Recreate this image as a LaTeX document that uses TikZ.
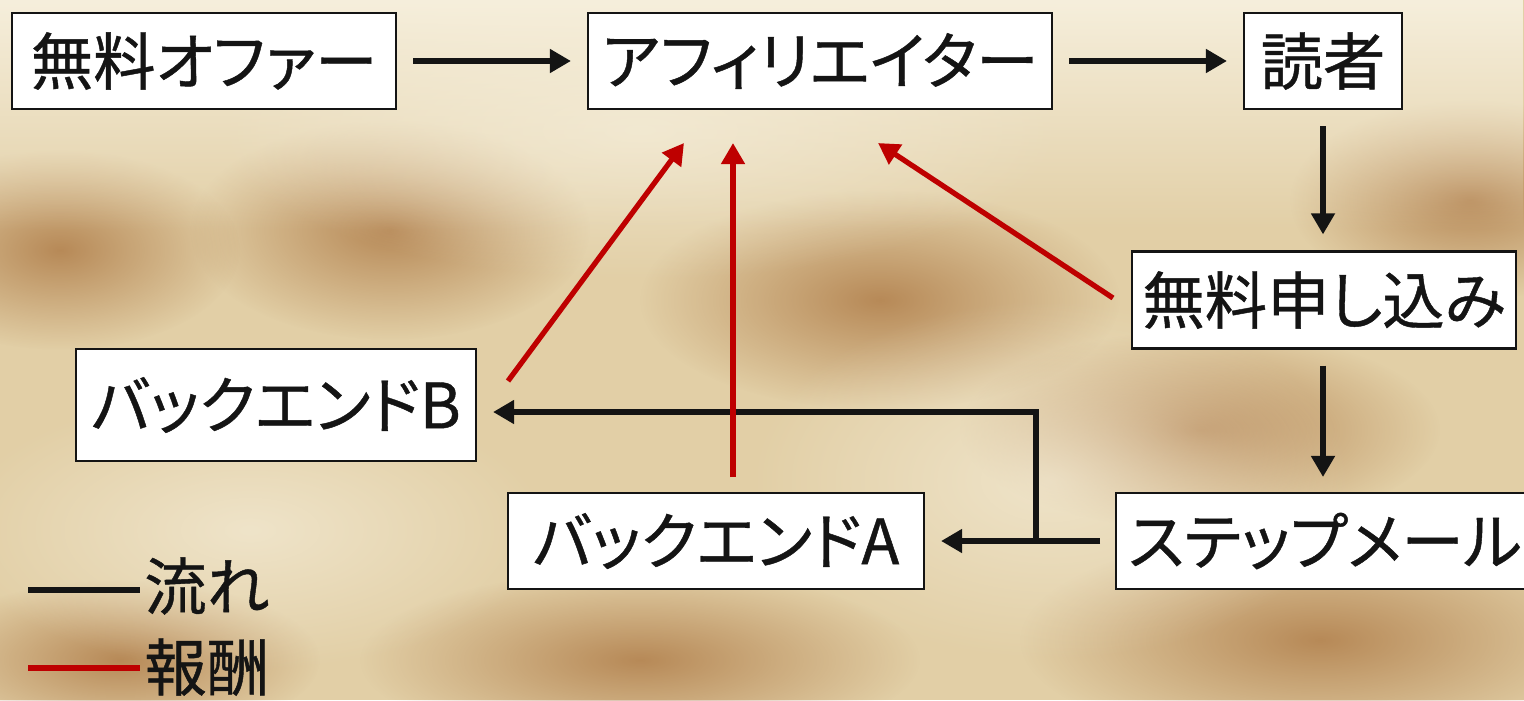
\documentclass[tikz,border=0pt]{standalone}
\usepackage{fontspec}
\setmainfont{Noto Sans CJK JP}[RawFeature=+palt, FakeBold=0.7]
\usetikzlibrary{arrows.meta,fadings}
\definecolor{parch}{RGB}{226,207,166}
\definecolor{parchlight}{RGB}{246,239,220}
\definecolor{stain}{RGB}{160,100,45}
\definecolor{flowred}{RGB}{190,0,0}
\definecolor{ink}{RGB}{20,20,20}
\tikzfading[name=softblob, inner color=transparent!35, outer color=transparent!100]
\tikzset{
  box/.style={draw=ink, line width=1.2pt, fill=white, inner sep=0pt, font=\fontsize{35.5}{42}\selectfont, text=ink},
  boxtext/.style={inner sep=0pt, font=\fontsize{35.5}{42}\selectfont, text=ink},
  frame/.style={draw=ink, line width=1.2pt, fill=white},
  flow/.style={draw=ink, line width=3.4pt, -{Triangle[length=12pt,width=13pt]}},
  reward/.style={draw=flowred, line width=3pt, -{Triangle[length=12pt,width=13pt]}},
  lbl/.style={font=\fontsize{35.5}{42}\selectfont, text=ink, inner sep=0pt, anchor=west},
  stainblob/.style={fill=stain, path fading=softblob, fit fading=true},
  lightblob/.style={fill=parchlight, path fading=softblob, fit fading=true},
}
\begin{document}
\begin{tikzpicture}[x=0.02cm,y=-0.02cm]
\useasboundingbox (0,0) rectangle (1524,700);
\clip (0,0) rectangle (1524,700);
% background
\fill[parch] (0,0) rectangle (1524,700);
\path[stainblob] (390,230) ellipse (200 and 110);
\path[stainblob] (880,300) ellipse (240 and 110);
\path[stainblob] (1320,640) ellipse (300 and 110);
\path[stainblob] (60,250) ellipse (180 and 100);
\path[stainblob] (1470,200) ellipse (180 and 100);
\path[stainblob] (640,660) ellipse (280 and 90);
\path[stainblob] (1200,430) ellipse (240 and 100);
\path[stainblob] (120,660) ellipse (200 and 80);
\path[lightblob] (640,130) ellipse (420 and 150);
\path[lightblob] (1050,480) ellipse (300 and 180);
\path[lightblob] (250,530) ellipse (300 and 140);
\fill[parchlight, path fading=south] (0,0) rectangle (1524,230);
% nodes
\node[box, minimum width=384*0.02cm, minimum height=96*0.02cm] (offer) at (204,61) {無料オファー};
\node[box, minimum width=464*0.02cm, minimum height=96*0.02cm] (aff) at (820,61) {アフィリエイター};
\node[box, minimum width=158*0.02cm, minimum height=96*0.02cm] (reader) at (1323,61) {読者};
\node[box, minimum width=384*0.02cm, minimum height=97*0.02cm] (signup) at (1324,300) {無料申し込み};
\path[frame] (1116,493) rectangle (1560,589);
\node[boxtext] (step) at (1325,541) {ステップメール};
\node[box, minimum width=416*0.02cm, minimum height=96*0.02cm] (beA) at (716,541) {バックエンドA};
\node[box, minimum width=400*0.02cm, minimum height=112*0.02cm] (beB) at (276,405) {バックエンドB};
% flow arrows
\coordinate (stepin) at (1100,541);
\coordinate (branch) at (1036,541);
\coordinate (corner) at (1036,412);
\draw[flow, shorten <=16*0.02cm, shorten >=16*0.02cm] (offer.east) -- (aff.west);
\draw[flow, shorten <=16*0.02cm, shorten >=16*0.02cm] (aff.east) -- (reader.west);
\draw[flow, shorten <=16*0.02cm, shorten >=16*0.02cm] (reader.south) -- (reader.south |- signup.north);
\draw[flow, shorten <=16*0.02cm, shorten >=16*0.02cm] (reader.south |- signup.south) -- (reader.south |- 0,493);
\draw[flow, shorten >=16*0.02cm] (stepin) -- (beA.east);
\draw[flow] (branch) -- (corner) -- ([xshift=16*0.02cm]beB.east |- corner);
% reward arrows
\coordinate (r1s) at (1113,298);
\coordinate (r1e) at (878,143);
\coordinate (r2s) at (733,477);
\coordinate (r2e) at (733,143);
\coordinate (r3s) at (508,381);
\coordinate (r3e) at (684,143);
\draw[reward] (r1s) -- (r1e);
\draw[reward] (r2s) -- (r2e);
\draw[reward] (r3s) -- (r3e);
% legend
\coordinate (lf1) at (28,590);
\coordinate (lf2) at (140,590);
\coordinate (lr1) at (28,668);
\coordinate (lr2) at (140,668);
\draw[draw=ink, line width=3.4pt] (lf1) -- (lf2);
\draw[draw=flowred, line width=3.4pt] (lr1) -- (lr2);
\node[lbl] (lflow) at (144,586) {流れ};
\node[lbl] (lrew) at (144,667) {報酬};
\end{tikzpicture}
\end{document}
